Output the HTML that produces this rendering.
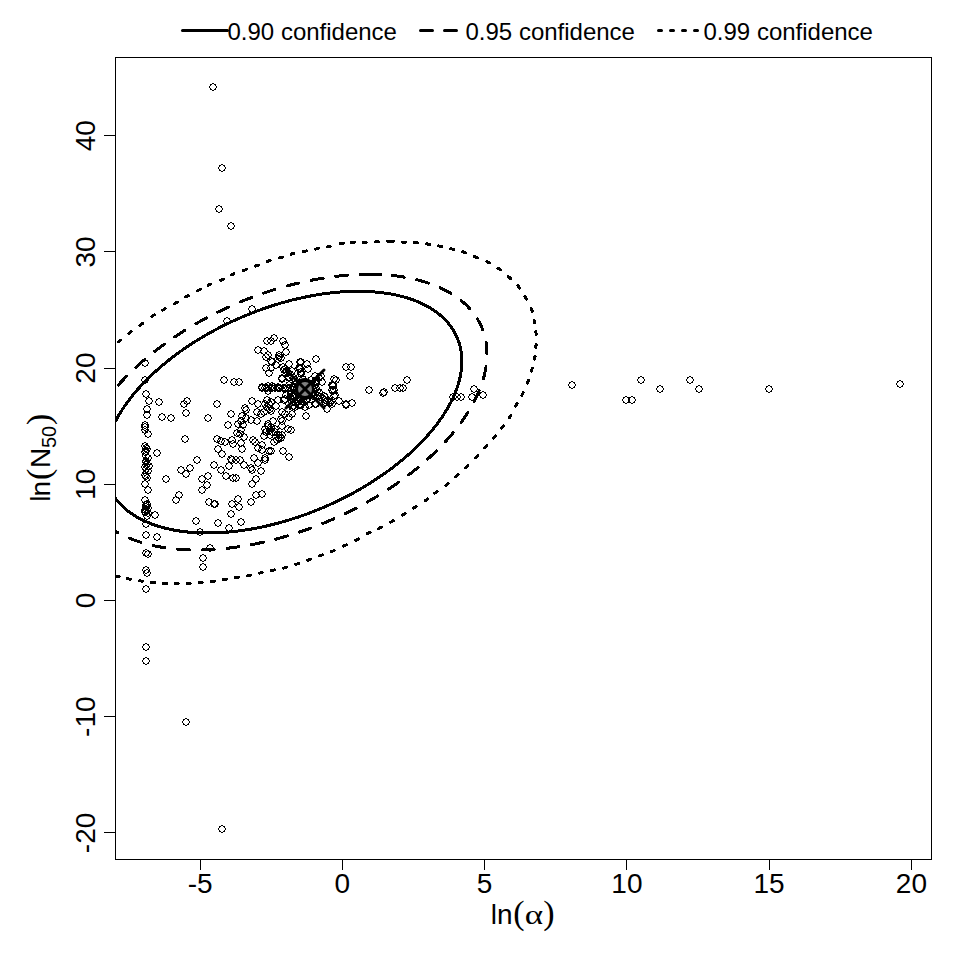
<!DOCTYPE html><html><head><meta charset="utf-8"><style>html,body{margin:0;padding:0;background:#fff;width:960px;height:960px;overflow:hidden}svg{display:block}</style></head><body>
<svg width="960" height="960" viewBox="0 0 960 960">
<rect width="960" height="960" fill="#fff"/>
<defs><clipPath id="cp"><rect x="115.5" y="57.5" width="816" height="801.5"/></clipPath></defs>
<g clip-path="url(#cp)" fill="none" stroke="#000" stroke-width="3" stroke-linecap="round" stroke-linejoin="round" shape-rendering="crispEdges">
<path d="M108.69,486.61 L108.01,484.94 L107.38,483.24 L106.80,481.53 L106.28,479.79 L105.81,478.03 L105.40,476.25 L105.04,474.46 L104.73,472.64 L104.48,470.80 L104.28,468.95 L104.13,467.08 L104.04,465.19 L104.01,463.29 L104.03,461.37 L104.10,459.44 L104.23,457.49 L104.41,455.53 L104.65,453.55 L104.94,451.56 L105.29,449.56 L105.69,447.55 L106.14,445.53 L106.65,443.50 L107.21,441.46 L107.83,439.41 L108.49,437.35 L109.22,435.28 L109.99,433.21 L110.82,431.13 L111.70,429.04 L112.63,426.95 L113.61,424.85 L114.65,422.75 L115.73,420.65 L116.87,418.55 L118.06,416.44 L119.30,414.33 L120.58,412.22 L121.92,410.11 L123.31,408.00 L124.74,405.90 L126.23,403.79 L127.76,401.69 L129.34,399.59 L130.96,397.49 L132.63,395.40 L134.35,393.31 L136.11,391.23 L137.92,389.16 L139.77,387.09 L141.66,385.03 L143.60,382.98 L145.58,380.94 L147.60,378.91 L149.67,376.88 L151.77,374.87 L153.92,372.87 L156.10,370.88 L158.32,368.91 L160.58,366.94 L162.88,364.99 L165.21,363.06 L167.58,361.14 L169.99,359.23 L172.43,357.35 L174.90,355.47 L177.40,353.62 L179.94,351.78 L182.51,349.97 L185.11,348.17 L187.74,346.39 L190.40,344.63 L193.08,342.89 L195.80,341.17 L198.54,339.47 L201.31,337.80 L204.10,336.15 L206.91,334.52 L209.75,332.92 L212.61,331.33 L215.49,329.78 L218.40,328.25 L221.32,326.74 L224.26,325.26 L227.22,323.81 L230.19,322.38 L233.19,320.99 L236.19,319.62 L239.21,318.27 L242.25,316.96 L245.30,315.67 L248.35,314.42 L251.42,313.19 L254.50,312.00 L257.59,310.83 L260.68,309.70 L263.79,308.59 L266.89,307.52 L270.01,306.48 L273.12,305.47 L276.24,304.50 L279.36,303.56 L282.49,302.65 L285.61,301.77 L288.73,300.93 L291.85,300.12 L294.97,299.35 L298.08,298.61 L301.19,297.90 L304.29,297.23 L307.39,296.60 L310.48,296.00 L313.56,295.43 L316.63,294.90 L319.70,294.41 L322.75,293.95 L325.78,293.53 L328.81,293.14 L331.82,292.79 L334.82,292.48 L337.80,292.20 L340.76,291.96 L343.71,291.76 L346.64,291.59 L349.54,291.46 L352.43,291.37 L355.30,291.31 L358.14,291.29 L360.96,291.31 L363.76,291.37 L366.54,291.46 L369.28,291.58 L372.01,291.75 L374.70,291.95 L377.37,292.19 L380.01,292.46 L382.61,292.77 L385.19,293.12 L387.74,293.50 L390.25,293.92 L392.74,294.38 L395.18,294.87 L397.60,295.39 L399.98,295.96 L402.32,296.55 L404.63,297.19 L406.90,297.86 L409.13,298.56 L411.33,299.30 L413.48,300.07 L415.60,300.87 L417.67,301.71 L419.71,302.59 L421.70,303.50 L423.65,304.44 L425.56,305.41 L427.42,306.41 L429.24,307.45 L431.01,308.52 L432.74,309.62 L434.43,310.75 L436.07,311.92 L437.66,313.11 L439.20,314.33 L440.70,315.59 L442.15,316.87 L443.55,318.18 L444.90,319.52 L446.20,320.89 L447.45,322.29 L448.66,323.71 L449.81,325.16 L450.91,326.64 L451.96,328.15 L452.96,329.68 L453.90,331.23 L454.80,332.81 L455.64,334.41 L456.43,336.04 L457.17,337.69 L457.85,339.36 L458.48,341.06 L459.06,342.77 L459.58,344.51 L460.05,346.27 L460.46,348.05 L460.82,349.84 L461.13,351.66 L461.38,353.50 L461.58,355.35 L461.73,357.22 L461.82,359.11 L461.85,361.01 L461.83,362.93 L461.76,364.86 L461.63,366.81 L461.45,368.77 L461.21,370.75 L460.92,372.74 L460.57,374.74 L460.17,376.75 L459.72,378.77 L459.21,380.80 L458.65,382.84 L458.03,384.89 L457.37,386.95 L456.64,389.02 L455.87,391.09 L455.04,393.17 L454.16,395.26 L453.23,397.35 L452.25,399.45 L451.21,401.55 L450.13,403.65 L448.99,405.75 L447.80,407.86 L446.56,409.97 L445.28,412.08 L443.94,414.19 L442.55,416.30 L441.12,418.40 L439.63,420.51 L438.10,422.61 L436.52,424.71 L434.90,426.81 L433.23,428.90 L431.51,430.99 L429.75,433.07 L427.94,435.14 L426.09,437.21 L424.20,439.27 L422.26,441.32 L420.28,443.36 L418.26,445.39 L416.19,447.42 L414.09,449.43 L411.94,451.43 L409.76,453.42 L407.54,455.39 L405.28,457.36 L402.98,459.31 L400.65,461.24 L398.28,463.16 L395.87,465.07 L393.43,466.95 L390.96,468.83 L388.46,470.68 L385.92,472.52 L383.35,474.33 L380.75,476.13 L378.12,477.91 L375.46,479.67 L372.78,481.41 L370.06,483.13 L367.32,484.83 L364.55,486.50 L361.76,488.15 L358.95,489.78 L356.11,491.38 L353.25,492.97 L350.37,494.52 L347.46,496.05 L344.54,497.56 L341.60,499.04 L338.64,500.49 L335.67,501.92 L332.67,503.31 L329.67,504.68 L326.65,506.03 L323.61,507.34 L320.56,508.63 L317.51,509.88 L314.44,511.11 L311.36,512.30 L308.27,513.47 L305.18,514.60 L302.07,515.71 L298.97,516.78 L295.85,517.82 L292.74,518.83 L289.62,519.80 L286.50,520.74 L283.37,521.65 L280.25,522.53 L277.13,523.37 L274.01,524.18 L270.89,524.95 L267.78,525.69 L264.67,526.40 L261.57,527.07 L258.47,527.70 L255.38,528.30 L252.30,528.87 L249.23,529.40 L246.16,529.89 L243.11,530.35 L240.08,530.77 L237.05,531.16 L234.04,531.51 L231.04,531.82 L228.06,532.10 L225.10,532.34 L222.15,532.54 L219.22,532.71 L216.32,532.84 L213.43,532.93 L210.56,532.99 L207.72,533.01 L204.90,532.99 L202.10,532.93 L199.32,532.84 L196.58,532.72 L193.85,532.55 L191.16,532.35 L188.49,532.11 L185.85,531.84 L183.25,531.53 L180.67,531.18 L178.12,530.80 L175.61,530.38 L173.12,529.92 L170.68,529.43 L168.26,528.91 L165.88,528.34 L163.54,527.75 L161.23,527.11 L158.96,526.44 L156.73,525.74 L154.53,525.00 L152.38,524.23 L150.26,523.43 L148.19,522.59 L146.15,521.71 L144.16,520.80 L142.21,519.86 L140.30,518.89 L138.44,517.89 L136.62,516.85 L134.85,515.78 L133.12,514.68 L131.43,513.55 L129.79,512.38 L128.20,511.19 L126.66,509.97 L125.16,508.71 L123.71,507.43 L122.31,506.12 L120.96,504.78 L119.66,503.41 L118.41,502.01 L117.20,500.59 L116.05,499.14 L114.95,497.66 L113.90,496.15 L112.90,494.62 L111.96,493.07 L111.06,491.49 L110.22,489.89 L109.43,488.26 L108.69,486.61Z"/>
<path d="M381.43,274.63 L384.53,274.82 L387.60,275.05 L390.65,275.32 L393.65,275.63 L396.63,275.99 L399.57,276.38 L402.47,276.82 L405.34,277.30 L408.17,277.82 L410.97,278.38 L413.72,278.98 L416.44,279.62 L419.11,280.30 L421.74,281.02 L424.33,281.79 L426.88,282.59 L429.38,283.43 L431.84,284.31 L434.25,285.23 L436.62,286.19 L438.94,287.18 L441.21,288.22 L443.43,289.29 L445.61,290.40 L447.74,291.55 L449.81,292.73 L451.84,293.95 L453.81,295.21 L455.73,296.50 L457.60,297.82 L459.41,299.19 L461.18,300.58 L462.88,302.01 L464.54,303.47 L466.13,304.97 L467.67,306.50 L469.16,308.06 L470.59,309.66 L471.96,311.28 L473.27,312.93 L474.53,314.62 L475.73,316.33 L476.86,318.08 L477.94,319.85 L478.96,321.65 L479.92,323.48 L480.82,325.34 L481.66,327.22 L482.44,329.13 L483.16,331.06 L483.82,333.02 L484.42,335.00 L484.95,337.00 L485.43,339.03 L485.84,341.08 L486.19,343.16 L486.48,345.25 L486.70,347.36 L486.87,349.50 L486.97,351.65 L487.01,353.82 L486.99,356.01 L486.90,358.21 L486.76,360.44 L486.55,362.67 L486.28,364.93 L485.94,367.19 L485.55,369.48 L485.09,371.77 L484.58,374.08 L484.00,376.39 L483.36,378.72 L482.65,381.06 L481.89,383.41 L481.07,385.77 L480.19,388.13 L479.24,390.51 L478.24,392.89 L477.18,395.27 L476.05,397.66 L474.87,400.06 L473.64,402.45 L472.34,404.85 L470.98,407.26 L469.57,409.66 L468.10,412.07 L466.58,414.47 L465.00,416.88 L463.36,419.28 L461.67,421.69 L459.92,424.08 L458.12,426.48 L456.27,428.87 L454.36,431.25 L452.40,433.63 L450.39,436.01 L448.33,438.37 L446.22,440.73 L444.06,443.08 L441.85,445.42 L439.59,447.75 L437.28,450.07 L434.93,452.38 L432.53,454.67 L430.08,456.95 L427.59,459.22 L425.06,461.47 L422.48,463.71 L419.86,465.94 L417.20,468.14 L414.50,470.33 L411.75,472.51 L408.97,474.66 L406.15,476.79 L403.29,478.91 L400.40,481.00 L397.47,483.08 L394.50,485.13 L391.50,487.16 L388.47,489.17 L385.41,491.15 L382.31,493.11 L379.19,495.04 L376.03,496.95 L372.85,498.84 L369.64,500.69 L366.40,502.53 L363.14,504.33 L359.85,506.10 L356.54,507.85 L353.20,509.57 L349.85,511.25 L346.48,512.91 L343.08,514.54 L339.67,516.13 L336.24,517.70 L332.79,519.23 L329.33,520.73 L325.86,522.19 L322.37,523.62 L318.87,525.02 L315.36,526.39 L311.83,527.71 L308.30,529.01 L304.77,530.27 L301.22,531.49 L297.67,532.68 L294.12,533.82 L290.56,534.94 L287.00,536.01 L283.44,537.05 L279.87,538.05 L276.31,539.01 L272.76,539.93 L269.20,540.81 L265.65,541.66 L262.10,542.46 L258.56,543.23 L255.03,543.95 L251.51,544.64 L247.99,545.28 L244.49,545.88 L241.00,546.45 L237.52,546.97 L234.05,547.45 L230.60,547.89 L227.17,548.29 L223.75,548.65 L220.35,548.96 L216.97,549.23 L213.61,549.47 L210.27,549.66 L206.95,549.80 L203.66,549.91 L200.39,549.98 L197.14,550.00 L193.92,549.98 L190.73,549.92 L187.57,549.81 L184.43,549.67 L181.33,549.48 L178.26,549.25 L175.21,548.98 L172.21,548.67 L169.23,548.31 L166.29,547.92 L163.39,547.48 L160.52,547.00 L157.69,546.48 L154.89,545.92 L152.14,545.32 L149.42,544.68 L146.75,544.00 L144.12,543.28 L141.53,542.51 L138.98,541.71 L136.48,540.87 L134.02,539.99 L131.61,539.07 L129.24,538.11 L126.92,537.12 L124.65,536.08 L122.43,535.01 L120.25,533.90 L118.12,532.75 L116.05,531.57 L114.02,530.35 L112.05,529.09 L110.13,527.80 L108.26,526.48 L106.45,525.11 L104.68,523.72 L102.98,522.29 L101.32,520.83 L99.73,519.33 L98.19,517.80 L96.70,516.24 L95.27,514.64 L93.90,513.02 L92.59,511.37 L91.33,509.68 L90.13,507.97 L89.00,506.22 L87.92,504.45 L86.90,502.65 L85.94,500.82 L85.04,498.96 L84.20,497.08 L83.42,495.17 L82.70,493.24 L82.04,491.28 L81.44,489.30 L80.91,487.30 L80.43,485.27 L80.02,483.22 L79.67,481.14 L79.38,479.05 L79.16,476.94 L78.99,474.80 L78.89,472.65 L78.85,470.48 L78.87,468.29 L78.96,466.09 L79.10,463.86 L79.31,461.63 L79.58,459.37 L79.92,457.11 L80.31,454.82 L80.77,452.53 L81.28,450.22 L81.86,447.91 L82.50,445.58 L83.21,443.24 L83.97,440.89 L84.79,438.53 L85.67,436.17 L86.62,433.79 L87.62,431.41 L88.68,429.03 L89.81,426.64 L90.99,424.24 L92.22,421.85 L93.52,419.45 L94.88,417.04 L96.29,414.64 L97.76,412.23 L99.28,409.83 L100.86,407.42 L102.50,405.02 L104.19,402.61 L105.94,400.22 L107.74,397.82 L109.59,395.43 L111.50,393.05 L113.46,390.67 L115.47,388.29 L117.53,385.93 L119.64,383.57 L121.80,381.22 L124.01,378.88 L126.27,376.55 L128.58,374.23 L130.93,371.92 L133.33,369.63 L135.78,367.35 L138.27,365.08 L140.80,362.83 L143.38,360.59 L146.00,358.36 L148.66,356.16 L151.36,353.97 L154.11,351.79 L156.89,349.64 L159.71,347.51 L162.57,345.39 L165.46,343.30 L168.39,341.22 L171.36,339.17 L174.36,337.14 L177.39,335.13 L180.45,333.15 L183.55,331.19 L186.67,329.26 L189.83,327.35 L193.01,325.46 L196.22,323.61 L199.46,321.77 L202.72,319.97 L206.01,318.20 L209.32,316.45 L212.66,314.73 L216.01,313.05 L219.38,311.39 L222.78,309.76 L226.19,308.17 L229.62,306.60 L233.07,305.07 L236.53,303.57 L240.00,302.11 L243.49,300.68 L246.99,299.28 L250.50,297.91 L254.03,296.59 L257.56,295.29 L261.09,294.03 L264.64,292.81 L268.19,291.62 L271.74,290.48 L275.30,289.36 L278.86,288.29 L282.42,287.25 L285.99,286.25 L289.55,285.29 L293.10,284.37 L296.66,283.49 L300.21,282.64 L303.76,281.84 L307.30,281.07 L310.83,280.35 L314.35,279.66 L317.87,279.02 L321.37,278.42 L324.86,277.85 L328.34,277.33 L331.81,276.85 L335.26,276.41 L338.69,276.01 L342.11,275.65 L345.51,275.34 L348.89,275.07 L352.25,274.83 L355.59,274.64 L358.91,274.50 L362.20,274.39 L365.47,274.32 L368.72,274.30 L371.94,274.32 L375.13,274.38 L378.29,274.49 L381.43,274.63Z" stroke-dasharray="12 12.78" stroke-dashoffset="13.93"/>
<path d="M402.60,242.12L405.60,242.28 M414.41,242.36L417.39,242.64 M426.62,243.88L429.58,244.32 M438.63,245.95L441.57,246.55 M450.75,248.71L453.65,249.49 M462.68,251.71L465.52,252.69 M474.53,256.60L477.27,257.80 M486.79,261.47L489.41,262.93 M497.88,268.13L500.32,269.87 M508.30,276.48L510.50,278.52 M517.81,285.73L519.69,288.07 M524.85,296.50L526.35,299.10 M531.38,308.59L532.42,311.41 M534.08,320.03L534.72,322.97 M535.88,331.60L536.12,334.60 M536.09,344.20L535.91,347.20 M535.05,356.22L534.55,359.18 M532.30,368.25L531.50,371.15 M528.43,380.30L527.37,383.10 M523.15,392.65L521.85,395.35 M516.99,403.80L515.51,406.40 M510.82,415.35L509.18,417.85 M503.39,425.79L501.61,428.21 M495.55,435.94L493.65,438.26 M486.81,445.69L484.79,447.91 M477.95,455.83L475.85,457.97 M467.90,465.78L465.70,467.82 M458.04,474.82L455.76,476.78 M448.27,483.36L445.93,485.24 M437.20,491.40L434.80,493.20 M427.73,498.94L425.27,500.66 M416.25,506.47L413.75,508.13 M405.28,513.51L402.72,515.09 M393.40,520.65L390.80,522.15 M381.32,527.19L378.68,528.61 M370.09,532.22L367.41,533.58 M358.46,538.96L355.74,540.24 M346.37,544.80L343.63,546.00 M334.29,550.43L331.51,551.57 M322.20,554.87L319.40,555.93 M310.42,559.31L307.58,560.29 M298.53,563.45L295.67,564.35 M286.44,567.28L283.56,568.12 M274.35,569.87L271.45,570.63 M262.26,572.41L259.34,573.09 M250.47,575.10L247.53,575.70 M238.28,577.05L235.32,577.55 M226.39,579.19L223.41,579.61 M214.49,581.09L211.51,581.41 M202.25,582.39L199.25,582.61 M190.10,583.44L187.10,583.56 M178.25,583.50L175.25,583.50 M166.40,583.56L163.40,583.44 M154.50,582.62L151.50,582.38 M142.49,581.20L139.51,580.80 M130.37,579.27L127.43,578.73 M119.06,576.86L116.14,576.14 M118.33,341.94L120.67,340.06 M128.80,333.40L131.20,331.60 M140.02,325.26L142.48,323.54 M151.84,316.42L154.36,314.78 M162.72,310.18L165.28,308.62 M174.60,303.64L177.20,302.16 M185.78,296.96L188.42,295.54 M197.66,290.67L200.34,289.33 M208.24,285.24L210.96,283.96 M220.53,280.40L223.27,279.20 M231.11,274.97L233.89,273.83 M243.60,270.53L246.40,269.47 M255.48,266.09L258.32,265.11 M267.32,261.45L270.18,260.55 M279.81,257.92L282.69,257.08 M291.05,254.13L293.95,253.37 M303.54,251.59L306.46,250.91 M315.43,249.05L318.37,248.45 M327.27,246.75L330.23,246.25 M340.41,243.60L343.39,243.20 M351.31,242.36L354.29,242.04 M363.20,242.61L366.20,242.39 M375.70,241.96L378.70,241.84"/>
<line x1="372.5" y1="274.4" x2="381" y2="274.8"/>
<line x1="387.5" y1="241.3" x2="393.5" y2="241.3"/>
</g>
<defs><path id="c" d="M-1,-4h2v1h-2z M-3,-3h2v1h-2z M1,-3h2v1h-2z M-3,-2h1v1h-1z M2,-2h1v1h-1z M-4,-1h1v2h-1z M3,-1h1v2h-1z M-3,1h1v1h-1z M2,1h1v1h-1z M-3,2h2v1h-2z M1,2h2v1h-2z M-1,3h2v1h-2z"/></defs>
<g fill="#000" shape-rendering="crispEdges">
<use href="#c" x="213" y="87"/>
<use href="#c" x="222" y="168"/>
<use href="#c" x="219" y="209"/>
<use href="#c" x="231" y="226"/>
<use href="#c" x="572" y="385"/>
<use href="#c" x="641" y="380"/>
<use href="#c" x="660" y="389"/>
<use href="#c" x="690" y="380"/>
<use href="#c" x="699" y="389"/>
<use href="#c" x="626" y="400"/>
<use href="#c" x="632" y="400"/>
<use href="#c" x="769" y="389"/>
<use href="#c" x="900" y="384"/>
<use href="#c" x="369" y="390"/>
<use href="#c" x="383" y="393"/>
<use href="#c" x="395" y="388"/>
<use href="#c" x="400" y="388"/>
<use href="#c" x="403" y="388"/>
<use href="#c" x="407" y="380"/>
<use href="#c" x="453" y="397"/>
<use href="#c" x="457" y="397"/>
<use href="#c" x="461" y="397"/>
<use href="#c" x="474" y="389"/>
<use href="#c" x="472" y="397"/>
<use href="#c" x="483" y="395"/>
<use href="#c" x="227" y="321"/>
<use href="#c" x="145" y="363"/>
<use href="#c" x="145" y="380"/>
<use href="#c" x="224" y="380"/>
<use href="#c" x="234" y="382"/>
<use href="#c" x="146" y="394"/>
<use href="#c" x="149" y="401"/>
<use href="#c" x="159" y="402"/>
<use href="#c" x="187" y="401"/>
<use href="#c" x="184" y="404"/>
<use href="#c" x="217" y="404"/>
<use href="#c" x="147" y="409"/>
<use href="#c" x="147" y="415"/>
<use href="#c" x="162" y="417"/>
<use href="#c" x="171" y="418"/>
<use href="#c" x="186" y="413"/>
<use href="#c" x="208" y="418"/>
<use href="#c" x="231" y="414"/>
<use href="#c" x="228" y="425"/>
<use href="#c" x="145" y="427"/>
<use href="#c" x="145" y="430"/>
<use href="#c" x="148" y="434"/>
<use href="#c" x="185" y="439"/>
<use href="#c" x="217" y="439"/>
<use href="#c" x="221" y="441"/>
<use href="#c" x="225" y="442"/>
<use href="#c" x="232" y="440"/>
<use href="#c" x="233" y="444"/>
<use href="#c" x="218" y="449"/>
<use href="#c" x="222" y="454"/>
<use href="#c" x="146" y="448"/>
<use href="#c" x="146" y="451"/>
<use href="#c" x="146" y="456"/>
<use href="#c" x="146" y="461"/>
<use href="#c" x="146" y="465"/>
<use href="#c" x="149" y="466"/>
<use href="#c" x="146" y="469"/>
<use href="#c" x="145" y="475"/>
<use href="#c" x="147" y="478"/>
<use href="#c" x="145" y="484"/>
<use href="#c" x="148" y="490"/>
<use href="#c" x="157" y="453"/>
<use href="#c" x="197" y="460"/>
<use href="#c" x="214" y="465"/>
<use href="#c" x="231" y="459"/>
<use href="#c" x="232" y="460"/>
<use href="#c" x="229" y="466"/>
<use href="#c" x="181" y="470"/>
<use href="#c" x="190" y="468"/>
<use href="#c" x="186" y="474"/>
<use href="#c" x="221" y="470"/>
<use href="#c" x="226" y="476"/>
<use href="#c" x="233" y="478"/>
<use href="#c" x="166" y="479"/>
<use href="#c" x="202" y="479"/>
<use href="#c" x="208" y="476"/>
<use href="#c" x="207" y="485"/>
<use href="#c" x="202" y="490"/>
<use href="#c" x="179" y="495"/>
<use href="#c" x="176" y="500"/>
<use href="#c" x="145" y="500"/>
<use href="#c" x="146" y="505"/>
<use href="#c" x="145" y="510"/>
<use href="#c" x="148" y="513"/>
<use href="#c" x="155" y="515"/>
<use href="#c" x="209" y="502"/>
<use href="#c" x="214" y="504"/>
<use href="#c" x="215" y="504"/>
<use href="#c" x="232" y="504"/>
<use href="#c" x="231" y="514"/>
<use href="#c" x="196" y="521"/>
<use href="#c" x="147" y="516"/>
<use href="#c" x="146" y="524"/>
<use href="#c" x="218" y="523"/>
<use href="#c" x="229" y="528"/>
<use href="#c" x="200" y="532"/>
<use href="#c" x="146" y="535"/>
<use href="#c" x="157" y="537"/>
<use href="#c" x="146" y="553"/>
<use href="#c" x="148" y="554"/>
<use href="#c" x="210" y="548"/>
<use href="#c" x="203" y="558"/>
<use href="#c" x="203" y="567"/>
<use href="#c" x="146" y="570"/>
<use href="#c" x="147" y="573"/>
<use href="#c" x="146" y="589"/>
<use href="#c" x="146" y="647"/>
<use href="#c" x="146" y="661"/>
<use href="#c" x="186" y="722"/>
<use href="#c" x="222" y="829"/>
<use href="#c" x="252" y="309"/>
<use href="#c" x="267" y="341"/>
<use href="#c" x="271" y="341"/>
<use href="#c" x="274" y="338"/>
<use href="#c" x="283" y="341"/>
<use href="#c" x="285" y="345"/>
<use href="#c" x="258" y="350"/>
<use href="#c" x="264" y="351"/>
<use href="#c" x="268" y="355"/>
<use href="#c" x="279" y="355"/>
<use href="#c" x="279" y="357"/>
<use href="#c" x="286" y="352"/>
<use href="#c" x="271" y="361"/>
<use href="#c" x="276" y="365"/>
<use href="#c" x="289" y="364"/>
<use href="#c" x="266" y="368"/>
<use href="#c" x="271" y="368"/>
<use href="#c" x="269" y="373"/>
<use href="#c" x="316" y="359"/>
<use href="#c" x="300" y="362"/>
<use href="#c" x="299" y="368"/>
<use href="#c" x="308" y="369"/>
<use href="#c" x="301" y="372"/>
<use href="#c" x="285" y="369"/>
<use href="#c" x="346" y="367"/>
<use href="#c" x="351" y="367"/>
<use href="#c" x="350" y="376"/>
<use href="#c" x="239" y="382"/>
<use href="#c" x="282" y="379"/>
<use href="#c" x="289" y="378"/>
<use href="#c" x="262" y="387"/>
<use href="#c" x="268" y="391"/>
<use href="#c" x="272" y="386"/>
<use href="#c" x="279" y="388"/>
<use href="#c" x="285" y="389"/>
<use href="#c" x="289" y="385"/>
<use href="#c" x="291" y="394"/>
<use href="#c" x="315" y="376"/>
<use href="#c" x="322" y="382"/>
<use href="#c" x="316" y="382"/>
<use href="#c" x="336" y="380"/>
<use href="#c" x="332" y="385"/>
<use href="#c" x="334" y="390"/>
<use href="#c" x="335" y="395"/>
<use href="#c" x="339" y="401"/>
<use href="#c" x="346" y="404"/>
<use href="#c" x="352" y="403"/>
<use href="#c" x="294" y="396"/>
<use href="#c" x="315" y="404"/>
<use href="#c" x="322" y="398"/>
<use href="#c" x="325" y="402"/>
<use href="#c" x="306" y="400"/>
<use href="#c" x="289" y="364"/>
<use href="#c" x="300" y="369"/>
<use href="#c" x="308" y="369"/>
<use href="#c" x="284" y="370"/>
<use href="#c" x="315" y="376"/>
<use href="#c" x="322" y="382"/>
<use href="#c" x="316" y="382"/>
<use href="#c" x="334" y="379"/>
<use href="#c" x="333" y="386"/>
<use href="#c" x="333" y="391"/>
<use href="#c" x="334" y="396"/>
<use href="#c" x="316" y="388"/>
<use href="#c" x="319" y="392"/>
<use href="#c" x="325" y="397"/>
<use href="#c" x="329" y="401"/>
<use href="#c" x="339" y="401"/>
<use href="#c" x="316" y="404"/>
<use href="#c" x="327" y="409"/>
<use href="#c" x="306" y="416"/>
<use href="#c" x="288" y="388"/>
<use href="#c" x="283" y="388"/>
<use href="#c" x="294" y="388"/>
<use href="#c" x="286" y="395"/>
<use href="#c" x="292" y="396"/>
<use href="#c" x="301" y="400"/>
<use href="#c" x="307" y="400"/>
<use href="#c" x="305" y="407"/>
<use href="#c" x="282" y="378"/>
<use href="#c" x="289" y="377"/>
<use href="#c" x="292" y="371"/>
<use href="#c" x="346" y="405"/>
<use href="#c" x="300" y="404"/>
<use href="#c" x="238" y="424"/>
<use href="#c" x="237" y="433"/>
<use href="#c" x="236" y="460"/>
<use href="#c" x="240" y="460"/>
<use href="#c" x="265" y="460"/>
<use href="#c" x="258" y="463"/>
<use href="#c" x="244" y="465"/>
<use href="#c" x="251" y="468"/>
<use href="#c" x="252" y="470"/>
<use href="#c" x="261" y="471"/>
<use href="#c" x="236" y="478"/>
<use href="#c" x="256" y="479"/>
<use href="#c" x="252" y="484"/>
<use href="#c" x="256" y="495"/>
<use href="#c" x="262" y="494"/>
<use href="#c" x="251" y="502"/>
<use href="#c" x="238" y="499"/>
<use href="#c" x="239" y="507"/>
<use href="#c" x="241" y="522"/>
<use href="#c" x="333" y="385"/>
<use href="#c" x="332" y="390"/>
<use href="#c" x="346" y="405"/>
<use href="#c" x="324" y="396"/>
<use href="#c" x="330" y="402"/>
<use href="#c" x="301" y="362"/>
<use href="#c" x="307" y="364"/>
<use href="#c" x="300" y="368"/>
<use href="#c" x="308" y="369"/>
<use href="#c" x="301" y="374"/>
<use href="#c" x="268" y="386"/>
<use href="#c" x="273" y="387"/>
<use href="#c" x="278" y="387"/>
<use href="#c" x="283" y="388"/>
<use href="#c" x="288" y="388"/>
<use href="#c" x="292" y="389"/>
<use href="#c" x="290" y="397"/>
<use href="#c" x="301" y="405"/>
<use href="#c" x="305" y="407"/>
<use href="#c" x="309" y="405"/>
<use href="#c" x="304" y="402"/>
<use href="#c" x="145" y="446"/>
<use href="#c" x="147" y="449"/>
<use href="#c" x="145" y="452"/>
<use href="#c" x="146" y="456"/>
<use href="#c" x="148" y="458"/>
<use href="#c" x="146" y="462"/>
<use href="#c" x="147" y="464"/>
<use href="#c" x="145" y="467"/>
<use href="#c" x="148" y="471"/>
<use href="#c" x="146" y="476"/>
<use href="#c" x="147" y="504"/>
<use href="#c" x="146" y="507"/>
<use href="#c" x="147" y="510"/>
<use href="#c" x="145" y="512"/>
<use href="#c" x="148" y="508"/>
<use href="#c" x="145" y="425"/>
<use href="#c" x="384" y="392"/>
<use href="#c" x="281" y="358"/>
<use href="#c" x="278" y="359"/>
<use href="#c" x="266" y="357"/>
<use href="#c" x="272" y="362"/>
<use href="#c" x="245" y="408"/>
<use href="#c" x="246" y="410"/>
<use href="#c" x="242" y="416"/>
<use href="#c" x="246" y="418"/>
<use href="#c" x="251" y="420"/>
<use href="#c" x="257" y="421"/>
<use href="#c" x="257" y="412"/>
<use href="#c" x="261" y="414"/>
<use href="#c" x="267" y="407"/>
<use href="#c" x="269" y="404"/>
<use href="#c" x="270" y="409"/>
<use href="#c" x="276" y="406"/>
<use href="#c" x="282" y="412"/>
<use href="#c" x="285" y="414"/>
<use href="#c" x="289" y="417"/>
<use href="#c" x="292" y="414"/>
<use href="#c" x="293" y="406"/>
<use href="#c" x="296" y="403"/>
<use href="#c" x="281" y="419"/>
<use href="#c" x="282" y="421"/>
<use href="#c" x="282" y="426"/>
<use href="#c" x="273" y="421"/>
<use href="#c" x="268" y="426"/>
<use href="#c" x="265" y="429"/>
<use href="#c" x="270" y="430"/>
<use href="#c" x="275" y="429"/>
<use href="#c" x="272" y="432"/>
<use href="#c" x="264" y="436"/>
<use href="#c" x="279" y="435"/>
<use href="#c" x="282" y="435"/>
<use href="#c" x="288" y="429"/>
<use href="#c" x="291" y="430"/>
<use href="#c" x="274" y="442"/>
<use href="#c" x="279" y="438"/>
<use href="#c" x="253" y="440"/>
<use href="#c" x="255" y="442"/>
<use href="#c" x="258" y="448"/>
<use href="#c" x="262" y="445"/>
<use href="#c" x="262" y="450"/>
<use href="#c" x="269" y="451"/>
<use href="#c" x="271" y="451"/>
<use href="#c" x="283" y="451"/>
<use href="#c" x="241" y="443"/>
<use href="#c" x="242" y="449"/>
<use href="#c" x="241" y="430"/>
<use href="#c" x="254" y="458"/>
<use href="#c" x="265" y="458"/>
<use href="#c" x="289" y="457"/>
<use href="#c" x="252" y="401"/>
<use href="#c" x="258" y="404"/>
<use href="#c" x="289" y="404"/>
<use href="#c" x="292" y="407"/>
<use href="#c" x="285" y="399"/>
<use href="#c" x="278" y="400"/>
<use href="#c" x="284" y="400"/>
<use href="#c" x="298" y="402"/>
<use href="#c" x="271" y="402"/>
<use href="#c" x="265" y="404"/>
<use href="#c" x="268" y="408"/>
<use href="#c" x="271" y="411"/>
<use href="#c" x="264" y="412"/>
<use href="#c" x="267" y="400"/>
<use href="#c" x="241" y="421"/>
<use href="#c" x="243" y="425"/>
<use href="#c" x="240" y="434"/>
<use href="#c" x="244" y="437"/>
<use href="#c" x="268" y="424"/>
<use href="#c" x="271" y="427"/>
<use href="#c" x="266" y="432"/>
<use href="#c" x="275" y="432"/>
<use href="#c" x="270" y="435"/>
<use href="#c" x="292" y="402"/>
<use href="#c" x="295" y="407"/>
<use href="#c" x="299" y="405"/>
<use href="#c" x="277" y="440"/>
<use href="#c" x="281" y="438"/>
<use href="#c" x="313" y="389"/>
<use href="#c" x="311" y="394"/>
<use href="#c" x="305" y="396"/>
<use href="#c" x="299" y="394"/>
<use href="#c" x="297" y="389"/>
<use href="#c" x="299" y="384"/>
<use href="#c" x="305" y="382"/>
<use href="#c" x="311" y="384"/>
<use href="#c" x="317" y="391"/>
<use href="#c" x="313" y="396"/>
<use href="#c" x="307" y="399"/>
<use href="#c" x="299" y="398"/>
<use href="#c" x="294" y="394"/>
<use href="#c" x="293" y="387"/>
<use href="#c" x="297" y="382"/>
<use href="#c" x="303" y="379"/>
<use href="#c" x="311" y="380"/>
<use href="#c" x="316" y="384"/>
<use href="#c" x="262" y="388"/>
<use href="#c" x="265" y="388"/>
<use href="#c" x="267" y="388"/>
<use href="#c" x="270" y="388"/>
<use href="#c" x="272" y="388"/>
<use href="#c" x="275" y="388"/>
<use href="#c" x="278" y="388"/>
<use href="#c" x="280" y="388"/>
<use href="#c" x="283" y="388"/>
<use href="#c" x="285" y="388"/>
<use href="#c" x="288" y="388"/>
<use href="#c" x="290" y="388"/>
<use href="#c" x="293" y="388"/>
<use href="#c" x="283" y="367"/>
<use href="#c" x="285" y="369"/>
<use href="#c" x="286" y="371"/>
<use href="#c" x="288" y="373"/>
<use href="#c" x="290" y="374"/>
<use href="#c" x="292" y="376"/>
<use href="#c" x="294" y="378"/>
<use href="#c" x="295" y="380"/>
<use href="#c" x="297" y="382"/>
<use href="#c" x="313" y="393"/>
<use href="#c" x="315" y="394"/>
<use href="#c" x="318" y="396"/>
<use href="#c" x="320" y="397"/>
<use href="#c" x="322" y="398"/>
<use href="#c" x="325" y="400"/>
<use href="#c" x="327" y="401"/>
<use href="#c" x="330" y="403"/>
<use href="#c" x="332" y="404"/>
<use href="#c" x="313" y="384"/>
<use href="#c" x="315" y="382"/>
<use href="#c" x="317" y="380"/>
<use href="#c" x="319" y="378"/>
<use href="#c" x="321" y="376"/>
</g>
<g stroke="#000" stroke-width="3" stroke-linecap="round"><line x1="286" y1="370" x2="324" y2="408"/><line x1="286" y1="408" x2="324" y2="370"/></g>
<ellipse cx="304.5" cy="389" rx="10" ry="11" fill="#000"/>
<circle cx="305" cy="389" r="7" fill="#808080"/>
<g stroke="#000" stroke-width="3"><line x1="296" y1="380" x2="314" y2="398"/><line x1="296" y1="398" x2="314" y2="380"/></g>
<g fill="none" stroke="#000" stroke-width="1" shape-rendering="crispEdges">
<rect x="115.5" y="57.5" width="816" height="801.5"/>
<line x1="200.5" y1="859" x2="200.5" y2="870"/>
<line x1="342.5" y1="859" x2="342.5" y2="870"/>
<line x1="484.5" y1="859" x2="484.5" y2="870"/>
<line x1="626.5" y1="859" x2="626.5" y2="870"/>
<line x1="769.5" y1="859" x2="769.5" y2="870"/>
<line x1="911.5" y1="859" x2="911.5" y2="870"/>
<line x1="104" y1="832.5" x2="115.5" y2="832.5"/>
<line x1="104" y1="716.5" x2="115.5" y2="716.5"/>
<line x1="104" y1="600.5" x2="115.5" y2="600.5"/>
<line x1="104" y1="484.5" x2="115.5" y2="484.5"/>
<line x1="104" y1="368.5" x2="115.5" y2="368.5"/>
<line x1="104" y1="251.5" x2="115.5" y2="251.5"/>
<line x1="104" y1="135.5" x2="115.5" y2="135.5"/>
</g>
<g font-family='"Liberation Sans", sans-serif' font-size="28" fill="#000" text-anchor="middle">
<text x="200.1" y="892.6">-5</text>
<text x="342.4" y="892.6">0</text>
<text x="484.6" y="892.6">5</text>
<text x="626.9" y="892.6">10</text>
<text x="769.1" y="892.6">15</text>
<text x="911.4" y="892.6">20</text>
<text transform="translate(95.3,832.9) rotate(-90)" x="0" y="0">-20</text>
<text transform="translate(95.3,716.7) rotate(-90)" x="0" y="0">-10</text>
<text transform="translate(95.3,600.5) rotate(-90)" x="0" y="0">0</text>
<text transform="translate(95.3,484.3) rotate(-90)" x="0" y="0">10</text>
<text transform="translate(95.3,368.1) rotate(-90)" x="0" y="0">20</text>
<text transform="translate(95.3,251.9) rotate(-90)" x="0" y="0">30</text>
<text transform="translate(95.3,135.7) rotate(-90)" x="0" y="0">40</text>
</g>
<g font-family='"Liberation Sans", sans-serif' font-size="28"><text x="490.7" y="923.75">ln</text><text x="513.3" y="923.75" font-family='"Liberation Serif", serif' font-size="34">(</text><text transform="translate(524.75,923.75) scale(1.25,1)" font-family='"Liberation Serif", serif'>α</text><text x="543.3" y="923.75" font-family='"Liberation Serif", serif' font-size="34">)</text></g>
<g transform="translate(49.8,500) rotate(-90)" font-family='"Liberation Sans", sans-serif' font-size="28"><text x="-1.7" y="0">l</text><text x="3.5" y="0">n</text><text x="20" y="0" font-family='"Liberation Serif", serif' font-size="34">(</text><text x="32.1" y="0">N</text><text x="52" y="5.7" font-size="20">50</text><text x="75" y="0" font-family='"Liberation Serif", serif' font-size="34">)</text></g>
<g font-family='"Liberation Sans", sans-serif' font-size="24" fill="#000">
<line x1="182.5" y1="30.5" x2="227.5" y2="30.5" stroke="#000" stroke-width="3" stroke-linecap="round"/>
<text x="227.5" y="40">0.90 confidence</text>
<line x1="420.5" y1="30.5" x2="465.5" y2="30.5" stroke="#000" stroke-width="3" stroke-linecap="round" stroke-dasharray="12 12"/>
<text x="465.5" y="40">0.95 confidence</text>
<line x1="658.5" y1="30.5" x2="703.5" y2="30.5" stroke="#000" stroke-width="3" stroke-linecap="round" stroke-dasharray="3.01 8.99"/>
<text x="703.5" y="40">0.99 confidence</text>
</g>
</svg></body></html>
